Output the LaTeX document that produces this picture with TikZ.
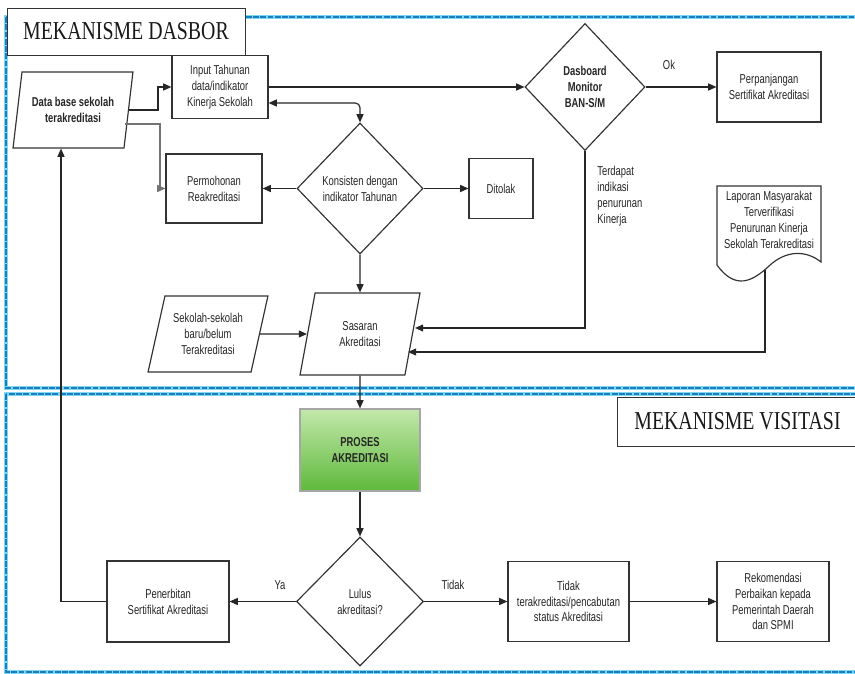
\documentclass[tikz,border=0pt]{standalone}
\usepackage{fontspec}
\setmainfont{Liberation Sans}[FakeStretch=0.73]
\newfontfamily\titlefont{Liberation Serif}[FakeStretch=0.77]
\usetikzlibrary{positioning,arrows.meta,shapes.geometric}

\def\px{0.3mm}
\definecolor{framebl}{RGB}{25,125,195}
\definecolor{framecy}{RGB}{130,215,240}
\definecolor{greentop}{RGB}{195,232,170}
\definecolor{greenbot}{RGB}{95,185,60}

\tikzset{
  fc/.style={font=\fontsize{11}{13.5}\selectfont, text=black!85, align=center, inner sep=1pt},
  box/.style={fc, draw=black!80, line width=1pt, rectangle},
  decision/.style={fc, draw=black!80, line width=1pt, diamond, inner sep=0pt},
  io/.style={fc, draw=black!80, line width=1pt, trapezium, trapezium left angle=75,
    trapezium right angle=105, trapezium stretches=true},
  arr/.style={-{Triangle[length=7pt,width=6pt]}, line width=1pt, draw=black!85},
  frame/.style={line width=2pt, draw=framebl, dash pattern=on 5pt off 1.2pt,
    preaction={draw=framecy, line width=3.2pt, solid}},
  title/.style={draw=black!80, line width=0.8pt, fill=white, inner sep=0pt,
    font=\titlefont\fontsize{22}{22}\selectfont, text=black!90},
}

\begin{document}
\begin{tikzpicture}[x=0.3mm, y=-0.3mm]
\clip (0,0) rectangle (855,674);
\fill[white] (0,0) rectangle (855,674);
% the two dashed frames
\draw[frame] (6,17) rectangle (880,388);
\draw[frame] (6,394) rectangle (880,672);
\node[title, minimum width=238*\px, minimum height=47*\px] (dasbor) at (126,31.5) {MEKANISME DASBOR};
\node[title, minimum width=241*\px, minimum height=49*\px] (visitasi) at (737.5,421.5) {MEKANISME VISITASI};

% dasbor part
\node[io, minimum width=120*\px, minimum height=76*\px] (db) at (73,110) {\bfseries Data base sekolah\\\bfseries terakreditasi};
\node[box, minimum width=96*\px, minimum height=63*\px] (input) at (220,87) {Input Tahunan\\data/indikator\\Kinerja Sekolah};
\node[box, minimum width=96*\px, minimum height=69*\px] (perm) at (214,188.5) {Permohonan\\Reakreditasi};
\node[decision, minimum width=126*\px, minimum height=131*\px] (kons) at (360,188.5) {Konsisten dengan\\indikator Tahunan};
\node[box, minimum width=64*\px, minimum height=60*\px] (tolak) at (501,188.5) {Ditolak};
\node[decision, minimum width=120*\px, minimum height=127*\px] (dash) at (585,87) {\bfseries Dasboard\\\bfseries Monitor\\\bfseries BAN-S/M};
\node[box, minimum width=104*\px, minimum height=70*\px] (perp) at (769,87) {Perpanjangan\\Sertifikat Akreditasi};
\node[fc] (ok) at (669,65) {Ok};
\node[fc, anchor=west, align=left] (turun) at (596,196) {Terdapat\\indikasi\\penurunan\\Kinerja};
% document shape with wavy bottom
\draw[line width=1pt, draw=black!80] (717,186) -- (717,265) .. controls (735,290) and (752,282) .. (769,266)
  .. controls (786,250) and (806,250) .. (821,262) -- (821,186) -- cycle;
\node[fc] (lapor) at (769,220) {Laporan Masyarakat\\Terverifikasi\\Penurunan Kinerja\\Sekolah Terakreditasi};
\coordinate (lapout) at (765,270);
\node[io, trapezium left angle=72, trapezium right angle=108, minimum width=120*\px, minimum height=76*\px] (baru) at (208,334) {Sekolah-sekolah\\baru/belum\\Terakreditasi};
\node[io, minimum width=120*\px, minimum height=82*\px] (sasar) at (360,334) {Sasaran\\Akreditasi};

% visitasi part
\node[box, draw=black!35, top color=greentop, bottom color=greenbot, minimum width=120*\px, minimum height=82*\px] (proses) at (360,450) {\bfseries PROSES\\\bfseries AKREDITASI};
\node[decision, minimum width=127*\px, minimum height=129*\px] (lulus) at (360,601.5) {Lulus\\akreditasi?};
\node[box, minimum width=122*\px, minimum height=81*\px] (terbit) at (168,601.5) {Penerbitan\\Sertifikat Akreditasi};
\node[box, minimum width=121*\px, minimum height=80*\px] (cabut) at (568.5,601.5) {Tidak\\terakreditasi/pencabutan\\status Akreditasi};
\node[box, minimum width=112*\px, minimum height=80*\px] (rekom) at (773,601.5) {Rekomendasi\\Perbaikan kepada\\Pemerintah Daerah\\dan SPMI};
\node[fc] (ya) at (280,585) {Ya};
\node[fc] (tidak) at (453,585) {Tidak};

% connectors
\draw[arr] (db.east) -- ++(29,0) |- (input.west);
\draw[arr, draw=black!55] ([shift={(-4,14)}]db.east) -- ++(35,0) |- (perm.west);
\draw[arr, {Triangle[length=7pt,width=6pt]}-{Triangle[length=7pt,width=6pt]}, rounded corners=4pt] ([shift={(0,16)}]input.east) -| (kons.north);
\draw[arr] (kons.west) -- (perm.east);
\draw[arr] (kons.east) -- (tolak.west);
\draw[arr] (kons.south) -- (sasar.north);
\draw[arr] (input.east) -- (dash.west);
\draw[arr] (dash.east) -- (perp.west);
\draw[arr] (dash.south) |- ([shift={(2,-6)}]sasar.east);
\draw[arr] (lapout) |- ([shift={(-5,18)}]sasar.east);
\draw[arr] (baru.east) -- (sasar.west);
\draw[arr] (sasar.south) -- (proses.north);
\draw[arr] (proses.south) -- (lulus.north);
\draw[arr] (lulus.west) -- (terbit.east);
\draw[arr] (terbit.west) -| ([shift={(-12,0)}]db.south);
\draw[arr] (lulus.east) -- (cabut.west);
\draw[arr] (cabut.east) -- (rekom.west);
\end{tikzpicture}
\end{document}
